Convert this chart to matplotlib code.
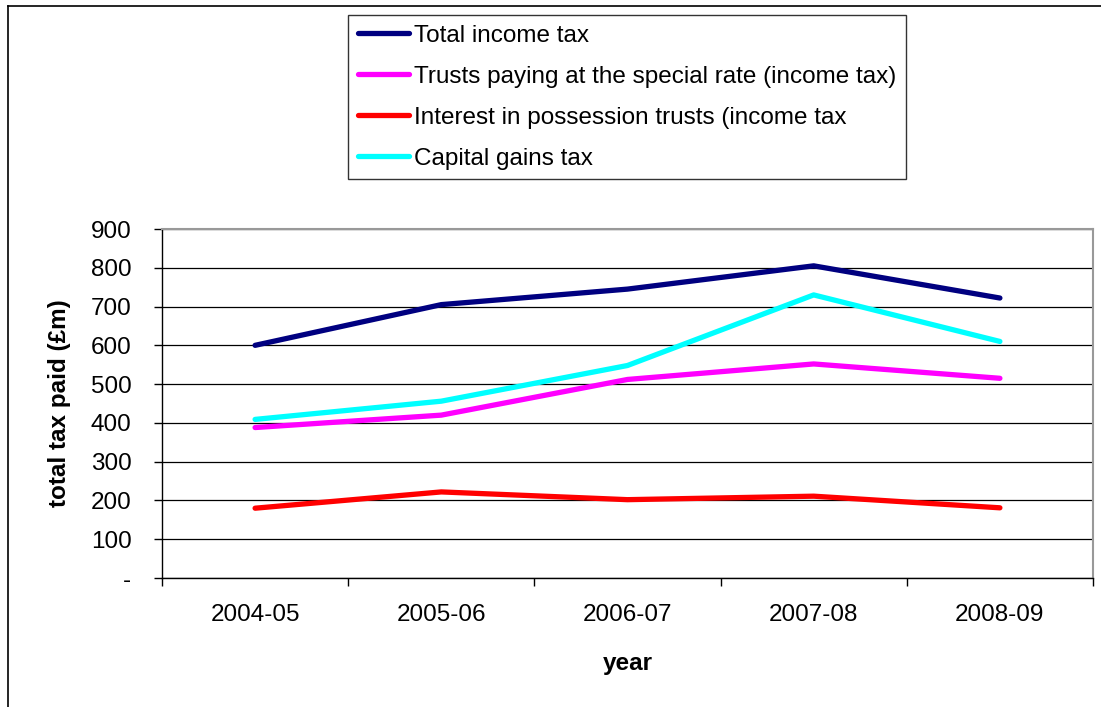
import matplotlib
matplotlib.use("Agg")
import matplotlib.pyplot as plt
from matplotlib.lines import Line2D

plt.rcParams['font.family'] = ['Liberation Sans', 'DejaVu Sans']

# --- Data ---
years = ["2004-05", "2005-06", "2006-07", "2007-08", "2008-09"]
total_income_tax = [600, 705, 745, 805, 722]
special_rate = [388, 420, 512, 552, 515]
interest_in_possession = [180, 222, 202, 211, 181]
capital_gains = [409, 456, 548, 730, 610]

series = [
    ("Total income tax", total_income_tax, "#000080"),
    ("Trusts paying at the special rate (income tax)", special_rate, "#FF00FF"),
    ("Interest in possession trusts (income tax", interest_in_possession, "#FF0000"),
    ("Capital gains tax", capital_gains, "#00FFFF"),
]

W, H = 1101, 707
fig = plt.figure(figsize=(W / 100, H / 100), dpi=100)
ax = fig.add_axes([162 / W, 1 - 578 / H, (1093 - 162) / W, (578 - 229) / H])

x = range(len(years))
handles = []
for label, vals, color in series:
    ln, = ax.plot(x, vals, color=color, lw=3.8, solid_capstyle="round",
                  solid_joinstyle="round", label=label)
    handles.append(ln)

# --- Axes styling ---
ax.set_xlim(-0.5, len(years) - 0.5)
ax.set_ylim(0, 900)
ax.set_yticks(range(0, 901, 100))
ax.set_yticklabels(["-"] + [str(v) for v in range(100, 901, 100)])
ax.set_xticks(list(x))
ax.set_xticklabels(years)
ax.set_xticks([i - 0.5 for i in range(len(years) + 1)], minor=True)
ax.tick_params(axis="x", which="major", length=0, pad=19, labelsize=17.5)
ax.tick_params(axis="x", which="minor", length=6, width=1, direction="out")
ax.tick_params(axis="y", length=6, width=1, direction="out", pad=16, labelsize=17.5)

ax.grid(axis="y", color="black", lw=0.9)
ax.set_axisbelow(True)
for side in ("top", "right"):
    ax.spines[side].set_color("#999999")
    ax.spines[side].set_linewidth(1.5)
for side in ("left", "bottom"):
    ax.spines[side].set_color("black")
    ax.spines[side].set_linewidth(1)

ax.set_ylabel("total tax paid (£m)", fontsize=17.5, fontweight="bold")
ax.yaxis.set_label_coords(-0.098, 0.5)
ax.set_xlabel("year", fontsize=17.5, fontweight="bold")
ax.xaxis.set_label_coords(0.5, -0.212)

# --- Legend ---
leg = fig.legend(handles=handles, loc="upper left",
                 bbox_to_anchor=(348 / W, 1 - 15 / H), borderaxespad=0,
                 fontsize=17.5, frameon=True, fancybox=False, edgecolor="black",
                 handlelength=2.1, handletextpad=0.2, labelspacing=0.78,
                 borderpad=0.4)
leg.get_frame().set_linewidth(1)

# --- Outer chart border (left and top visible) ---
fig.add_artist(Line2D([8 / W, 8 / W], [0, 1 - 6 / H], color="black", lw=1.2))
fig.add_artist(Line2D([8 / W, 1], [1 - 6 / H, 1 - 6 / H], color="black", lw=1.2))

fig.savefig("out.png", dpi=100)
